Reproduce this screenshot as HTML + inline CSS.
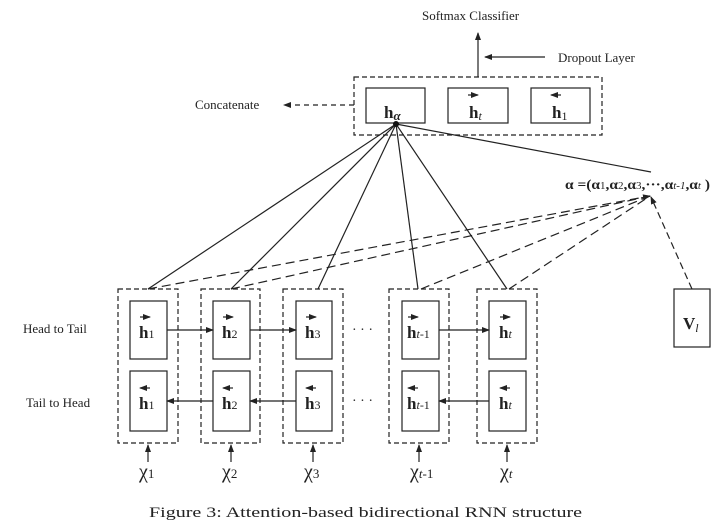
<!DOCTYPE html>
<html><head><style>
body{margin:0;background:#fff;}
svg{display:block;font-family:"Liberation Serif",serif;}
</style></head><body>
<svg width="728" height="526" viewBox="0 0 728 526" xmlns="http://www.w3.org/2000/svg">
<defs>
<marker id="a" markerWidth="8" markerHeight="6" refX="7" refY="3" orient="auto" markerUnits="userSpaceOnUse"><path d="M0,0 L8,3 L0,6 Z" fill="#222"/></marker>
</defs>
<g stroke="#222" fill="none" stroke-width="1.2">
<rect x="354" y="77" width="248" height="58" stroke-dasharray="5,3"/>
<rect x="366" y="88" width="59" height="35"/>
<rect x="448" y="88" width="60" height="35"/>
<rect x="531" y="88" width="59" height="35"/>
<line x1="478" y1="77" x2="478" y2="33" marker-end="url(#a)"/>
<line x1="545" y1="57" x2="485" y2="57" marker-end="url(#a)"/>
<line x1="354" y1="105" x2="284" y2="105" stroke-dasharray="5,4" marker-end="url(#a)"/>
<line x1="396" y1="124" x2="148" y2="289"/>
<line x1="396" y1="124" x2="231" y2="289"/>
<line x1="396" y1="124" x2="318" y2="289"/>
<line x1="396" y1="124" x2="418" y2="289"/>
<line x1="396" y1="124" x2="507" y2="289"/>
<line x1="396" y1="124" x2="651" y2="172"/>
<g stroke-dasharray="9,5">
<line x1="148" y1="289" x2="650" y2="196" marker-end="url(#a)"/>
<line x1="231" y1="289" x2="650" y2="196"/>
<line x1="421" y1="289" x2="650" y2="196"/>
<line x1="509" y1="289" x2="650" y2="196"/>
<line x1="692" y1="289" x2="651" y2="197" stroke-dasharray="7,4" marker-end="url(#a)"/>
</g>
<rect x="674" y="289" width="36" height="58"/>
<g stroke-dasharray="5,3">
<rect x="118" y="289" width="60" height="154"/>
<rect x="201" y="289" width="59" height="154"/>
<rect x="283" y="289" width="60" height="154"/>
<rect x="389" y="289" width="60" height="154"/>
<rect x="477" y="289" width="60" height="154"/>
</g>
<rect x="130" y="301" width="37" height="58"/><rect x="130" y="371" width="37" height="60"/>
<rect x="213" y="301" width="37" height="58"/><rect x="213" y="371" width="37" height="60"/>
<rect x="296" y="301" width="36" height="58"/><rect x="296" y="371" width="36" height="60"/>
<rect x="402" y="301" width="37" height="58"/><rect x="402" y="371" width="37" height="60"/>
<rect x="489" y="301" width="37" height="58"/><rect x="489" y="371" width="37" height="60"/>
<line x1="167" y1="330" x2="213" y2="330" marker-end="url(#a)"/>
<line x1="250" y1="330" x2="296" y2="330" marker-end="url(#a)"/>
<line x1="439" y1="330" x2="489" y2="330" marker-end="url(#a)"/>
<line x1="213" y1="401" x2="167" y2="401" marker-end="url(#a)"/>
<line x1="296" y1="401" x2="250" y2="401" marker-end="url(#a)"/>
<line x1="489" y1="401" x2="439" y2="401" marker-end="url(#a)"/>
<line x1="148" y1="462" x2="148" y2="445" marker-end="url(#a)"/>
<line x1="231" y1="462" x2="231" y2="445" marker-end="url(#a)"/>
<line x1="313" y1="462" x2="313" y2="445" marker-end="url(#a)"/>
<line x1="419" y1="462" x2="419" y2="445" marker-end="url(#a)"/>
<line x1="507" y1="462" x2="507" y2="445" marker-end="url(#a)"/>
</g>
<circle cx="396" cy="124" r="3" fill="#111"/>
<g stroke="#222" stroke-width="1.2">
<line x1="468" y1="95" x2="478" y2="95" marker-end="url(#a)"/>
<line x1="561" y1="95" x2="551" y2="95" marker-end="url(#a)"/>
</g>
<g font-size="13" fill="#222">
<text x="422" y="20">Softmax Classifier</text>
<text x="558" y="62">Dropout Layer</text>
<text x="195" y="109">Concatenate</text>
<text x="23" y="333">Head to Tail</text>
<text x="26" y="407">Tail to Head</text>
</g>
<g font-weight="bold" font-size="17" fill="#222">
<text x="384" y="118">h<tspan font-size="13" font-style="italic" dy="2">α</tspan></text>
<text x="469" y="118">h<tspan font-size="12" font-style="italic" font-weight="normal" dy="2">t</tspan></text>
<text x="552" y="118">h<tspan font-size="12" font-weight="normal" dy="2">1</tspan></text>
<text x="683" y="329">V<tspan font-size="12" font-style="italic" font-weight="normal" dy="3">l</tspan></text>
</g>
<text x="565" y="189" font-size="14" font-weight="bold" fill="#222" textLength="145" lengthAdjust="spacingAndGlyphs">α =(α<tspan font-size="10" font-weight="normal">1</tspan>,α<tspan font-size="10" font-weight="normal">2</tspan>,α<tspan font-size="10" font-weight="normal">3</tspan>,···,α<tspan font-size="10" font-style="italic" font-weight="normal">t-1</tspan>,α<tspan font-size="10" font-style="italic" font-weight="normal">t</tspan> )</text>
<g font-size="17" font-weight="bold" fill="#222">
<text x="139" y="338">h<tspan font-size="12" font-weight="normal">1</tspan></text>
<text x="222" y="338">h<tspan font-size="12" font-weight="normal">2</tspan></text>
<text x="305" y="338">h<tspan font-size="12" font-weight="normal">3</tspan></text>
<text x="407" y="338">h<tspan font-size="12" font-weight="normal" font-style="italic">t</tspan><tspan font-size="12" font-weight="normal">-1</tspan></text>
<text x="499" y="338">h<tspan font-size="12" font-weight="normal" font-style="italic">t</tspan></text>
<text x="139" y="409">h<tspan font-size="12" font-weight="normal">1</tspan></text>
<text x="222" y="409">h<tspan font-size="12" font-weight="normal">2</tspan></text>
<text x="305" y="409">h<tspan font-size="12" font-weight="normal">3</tspan></text>
<text x="407" y="409">h<tspan font-size="12" font-weight="normal" font-style="italic">t</tspan><tspan font-size="12" font-weight="normal">-1</tspan></text>
<text x="499" y="409">h<tspan font-size="12" font-weight="normal" font-style="italic">t</tspan></text>
</g>
<g stroke="#222" stroke-width="1.2">
<line x1="140" y1="317" x2="150" y2="317" marker-end="url(#a)"/>
<line x1="223" y1="317" x2="233" y2="317" marker-end="url(#a)"/>
<line x1="306" y1="317" x2="316" y2="317" marker-end="url(#a)"/>
<line x1="408" y1="317" x2="418" y2="317" marker-end="url(#a)"/>
<line x1="500" y1="317" x2="510" y2="317" marker-end="url(#a)"/>
<line x1="150" y1="388" x2="140" y2="388" marker-end="url(#a)"/>
<line x1="233" y1="388" x2="223" y2="388" marker-end="url(#a)"/>
<line x1="316" y1="388" x2="306" y2="388" marker-end="url(#a)"/>
<line x1="418" y1="388" x2="408" y2="388" marker-end="url(#a)"/>
<line x1="510" y1="388" x2="500" y2="388" marker-end="url(#a)"/>
</g>
<g font-size="14" fill="#222">
<text x="352" y="334">·  ·  ·</text>
<text x="352" y="405">·  ·  ·</text>
</g>
<g font-size="20" fill="#222">
<text x="139" y="478">χ<tspan font-size="13">1</tspan></text>
<text x="222" y="478">χ<tspan font-size="13">2</tspan></text>
<text x="304" y="478">χ<tspan font-size="13">3</tspan></text>
<text x="410" y="478">χ<tspan font-size="13" font-style="italic">t</tspan><tspan font-size="13">-1</tspan></text>
<text x="500" y="478">χ<tspan font-size="13" font-style="italic">t</tspan></text>
</g>
<text x="149" y="517" font-size="15" fill="#222" textLength="433" lengthAdjust="spacingAndGlyphs">Figure 3:  Attention-based bidirectional RNN structure</text>
</svg>
</body></html>
